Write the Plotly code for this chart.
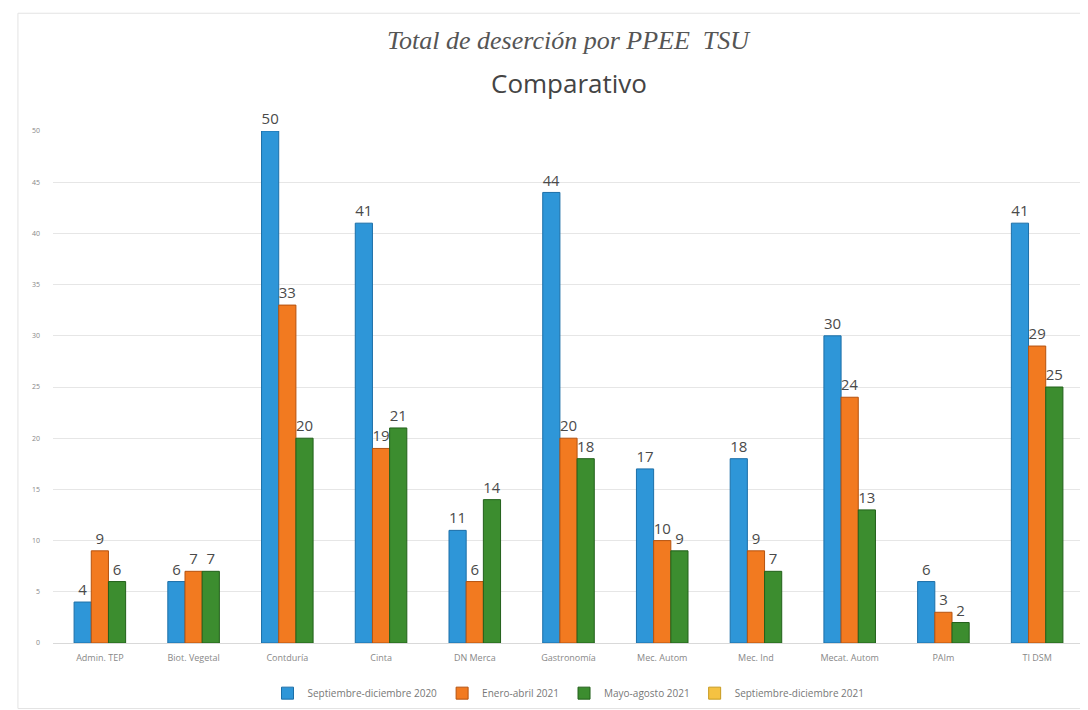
from plotly import graph_objects as go

# Data
programas = [
    "Admin. TEP", "Biot. Vegetal", "Contduría", "Cinta", "DN Merca",
    "Gastronomía", "Mec. Autom", "Mec. Ind", "Mecat. Autom", "PAIm", "TI DSM",
]
sep_dic_2020 = [4, 6, 50, 41, 11, 44, 17, 18, 30, 6, 41]
ene_abr_2021 = [9, 7, 33, 19, 6, 20, 10, 9, 24, 3, 29]
may_ago_2021 = [6, 7, 20, 21, 14, 18, 9, 7, 13, 2, 25]
sep_dic_2021 = [None] * len(programas)

SERIES = [
    ("Septiembre-diciembre 2020", sep_dic_2020, "#2E96D8", "#1C6FA8", "g1"),
    ("Enero-abril 2021", ene_abr_2021, "#F27A20", "#B5520F", "g2"),
    ("Mayo-agosto 2021", may_ago_2021, "#3C8D2F", "#22601A", "g3"),
    ("Septiembre-diciembre 2021", sep_dic_2021, "#F5C242", "#C79A20", "g3"),
]

fig = go.Figure()
for name, values, colour, edge, group in SERIES:
    fig.add_trace(
        go.Bar(
            x=programas,
            y=values,
            name=name,
            offsetgroup=group,
            marker={"color": colour, "line": {"color": edge, "width": 1}},
            text=[v if v is not None else "" for v in values],
            textposition="outside",
            cliponaxis=False,
            textfont={"family": "Open Sans, sans-serif", "size": 15, "color": "#4A4A4A"},
        )
    )

fig.update_layout(
    width=1088,
    height=710,
    paper_bgcolor="white",
    plot_bgcolor="white",
    margin={"l": 45, "r": 12, "t": 123, "b": 75, "autoexpand": False},
    barmode="group",
    bargap=0.45,
    bargroupgap=0.0,
    showlegend=True,
    legend={
        "orientation": "h",
        "x": 0.5,
        "xanchor": "center",
        "xref": "paper",
        "y": 0.035,
        "yref": "container",
        "yanchor": "middle",
        "bgcolor": "rgba(0,0,0,0)",
        "font": {"family": "Open Sans, sans-serif", "size": 10, "color": "#777777"},
        "itemwidth": 30,
        "traceorder": "normal",
    },
    xaxis={
        "showgrid": False,
        "showline": True,
        "linecolor": "#D9D9D9",
        "ticklabelstandoff": 6,
        "tickfont": {"family": "Open Sans, sans-serif", "size": 9, "color": "#888888"},
    },
    yaxis={
        "range": [0, 50],
        "dtick": 5,
        "showgrid": True,
        "gridcolor": "#E6E6E6",
        "zeroline": False,
        "tickfont": {"family": "Open Sans, sans-serif", "size": 7, "color": "#888888"},
        "ticklabelstandoff": 12,
    },
    annotations=[
        {
            "text": "<i>Total de deserción por PPEE  TSU</i>",
            "xref": "paper", "yref": "paper", "x": 0.5, "y": 1.0,
            "xanchor": "center", "yanchor": "bottom", "yshift": 74,
            "showarrow": False,
            "font": {"family": "Liberation Serif, serif", "size": 26, "color": "#555555"},
        },
        {
            "text": "Comparativo",
            "xref": "paper", "yref": "paper", "x": 0.5, "y": 1.0,
            "xanchor": "center", "yanchor": "bottom", "yshift": 28,
            "showarrow": False,
            "font": {"family": "Open Sans, sans-serif", "size": 26, "color": "#444444"},
        },
    ],
    shapes=[
        {
            "type": "rect", "xref": "paper", "yref": "paper",
            "x0": -0.034, "x1": 1.005, "y0": -0.128, "y1": 1.23,
            "line": {"color": "#E3E3E3", "width": 1},
        }
    ],
)

fig.write_html("out.html")
